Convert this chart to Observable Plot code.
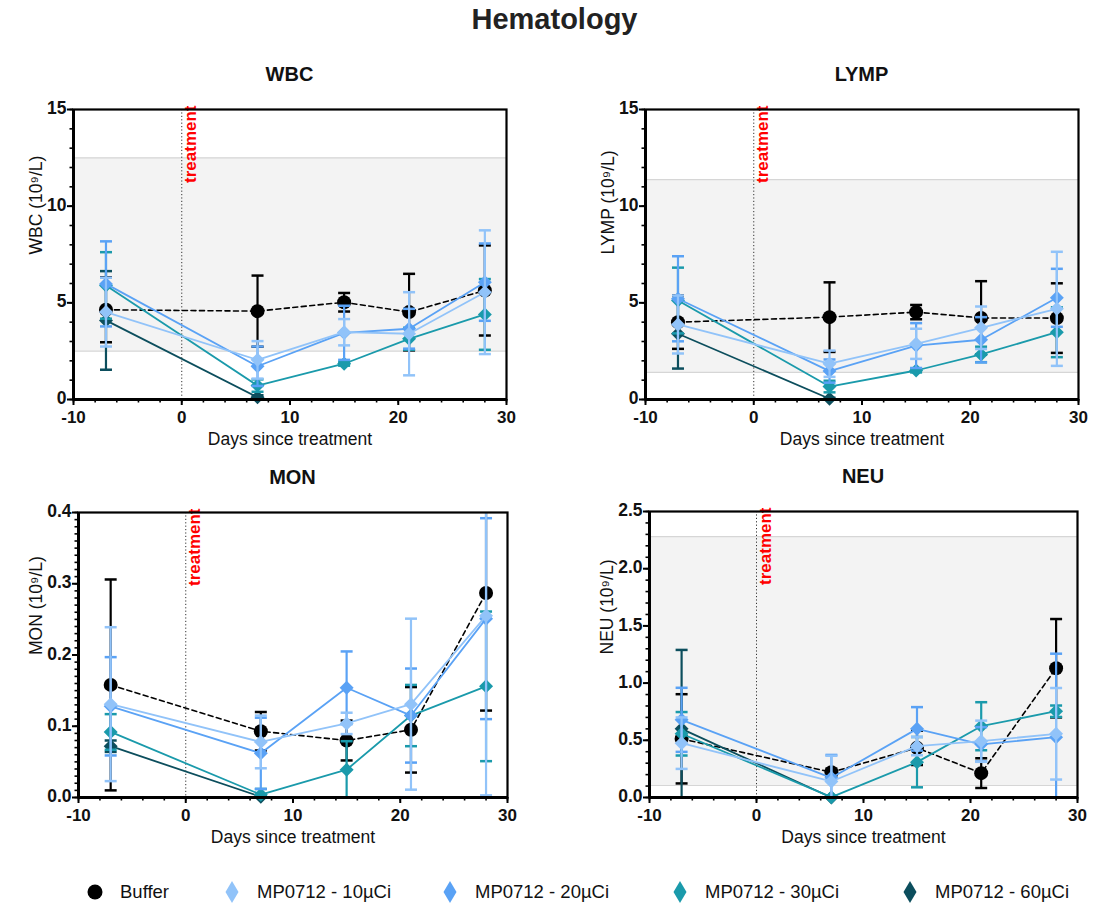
<!DOCTYPE html>
<html>
<head>
<meta charset="utf-8">
<script src="https://cdn.jsdelivr.net/npm/d3@7"></script>
<script src="https://cdn.jsdelivr.net/npm/@observablehq/plot@0.6"></script>
<style>
  body { margin: 0; background: #fff; font-family: "Liberation Sans", Arial, sans-serif; }
  #root { position: relative; width: 1109px; height: 904px; overflow: hidden; }
  .abs { position: absolute; }
  .title { left: 0; width: 1109px; text-align: center; font-weight: bold; font-size: 29px; top: 3px; color: #222; }
  .ptitle { text-align: center; font-weight: bold; font-size: 20px; color: #111; }
  .leg { font-size: 18.5px; color: #111; display: flex; align-items: center; }
</style>
</head>
<body>
<div id="root">
  <div class="abs title">Hematology</div>
</div>
<script>
// ---------- data ----------
const days = [-7, 7, 15, 21, 28];
const days60 = [-7, 7];
const treatmentDay = 0;
const groups = ["Buffer", "MP0712 - 10µCi", "MP0712 - 20µCi", "MP0712 - 30µCi", "MP0712 - 60µCi"];
const colors = ["#000000", "#91c3f9", "#5aa2f5", "#1a9aab", "#0c4e5d"];

// WBC
const wbcBuffer = [4.64, 4.57, 5.03, 4.52, 5.64];
const wbcBufferErr = [1.68, 1.84, 0.48, 1.98, 2.33];
const wbc10 = [4.52, 2.05, 3.48, 3.40, 5.55];
const wbc10Err = [1.78, 0.97, 0.68, 2.15, 3.2];
const wbc20 = [5.98, 1.72, 3.45, 3.66, 6.07];
const wbc20Err = [2.2, 1.02, 1.4, 1.03, 2.0];
const wbc30 = [5.90, 0.72, 1.85, 3.14, 4.40];
const wbc30Err = [1.72, 0.32, 0.1, 0.57, 1.83];
const wbc60 = [4.09, 0.12];
const wbc60Err = [2.55, 0.1];
const wbcRange = [2.5, 12.5];

// LYMP
const lympBuffer = [4.0, 4.26, 4.52, 4.22, 4.21];
const lympBufferErr = [1.38, 1.8, 0.37, 1.9, 1.8];
const lymp10 = [3.88, 1.85, 2.88, 3.71, 4.69];
const lymp10Err = [1.5, 0.68, 0.78, 1.1, 2.95];
const lymp20 = [5.21, 1.47, 2.79, 3.09, 5.26];
const lymp20Err = [2.2, 0.6, 1.16, 1.17, 1.5];
const lymp30 = [5.12, 0.67, 1.5, 2.33, 3.48];
const lymp30Err = [1.7, 0.3, 0.1, 0.4, 1.29];
const lymp60 = [3.4, 0.04];
const lymp60Err = [1.8, 0.05];
const lympRange = [1.4, 11.37];

// MON
const monBuffer = [0.158, 0.093, 0.080, 0.095, 0.287];
const monBufferErr = [0.148, 0.027, 0.028, 0.06, 0.165];
const mon10 = [0.131, 0.078, 0.104, 0.131, 0.255];
const mon10Err = [0.108, 0.037, 0.015, 0.12, 0.252];
const mon20 = [0.128, 0.062, 0.154, 0.115, 0.251];
const mon20Err = [0.069, 0.05, 0.051, 0.066, 0.141];
const mon30 = [0.092, 0.004, 0.039, 0.115, 0.156];
const mon30Err = [0.025, 0.008, 0.04, 0.043, 0.105];
const mon60 = [0.072, 0.001];
const mon60Err = [0.008, 0.002];

// NEU
const neuBuffer = [0.513, 0.221, 0.434, 0.213, 1.13];
const neuBufferErr = [0.39, 0.03, 0.15, 0.13, 0.43];
const neu10 = [0.475, 0.14, 0.449, 0.492, 0.557];
const neu10Err = [0.225, 0.225, 0.08, 0.18, 0.4];
const neu20 = [0.679, 0.172, 0.6, 0.465, 0.527];
const neu20Err = [0.28, 0.2, 0.19, 0.15, 0.73];
const neu30 = [0.557, 0.003, 0.309, 0.623, 0.754];
const neu30Err = [0.19, 0.01, 0.22, 0.21, 0.05];
const neu60 = [0.6, 0.0];
const neu60Err = [0.69, 0.01];
const neuRange = [0.105, 2.28];

// ---------- build ----------
const FONT = '"Liberation Sans", Arial, sans-serif';
const capSymbol = { draw(ctx, size) { const r = Math.sqrt(size / Math.PI); ctx.moveTo(-r, 0); ctx.lineTo(r, 0); } };

function rows(xs, ys, es) { return xs.map((x, i) => ({ x, y: ys[i], lo: ys[i] - es[i], hi: ys[i] + es[i] })); }

function seriesMarks(data, color, isBuffer) {
  return [
    Plot.ruleX(data, { x: "x", y1: "lo", y2: "hi", stroke: color, strokeWidth: 2.2, clip: true }),
    Plot.dot(data, { x: "x", y: "lo", symbol: capSymbol, r: 6, stroke: color, strokeWidth: 2.5, fill: "none", clip: true }),
    Plot.dot(data, { x: "x", y: "hi", symbol: capSymbol, r: 6, stroke: color, strokeWidth: 2.5, fill: "none", clip: true }),
    Plot.line(data, { x: "x", y: "y", stroke: color, strokeWidth: isBuffer ? 1.6 : 1.8, strokeDasharray: isBuffer ? "5,3.5" : null }),
    isBuffer
      ? Plot.dot(data, { x: "x", y: "y", r: 7, fill: color, stroke: "none" })
      : Plot.dot(data, { x: "x", y: "y", symbol: "diamond2", r: 6.3, fill: color, stroke: "none" })
  ];
}

function panel(cfg) {
  const { left, top, marginLeft, plotH, yDomain, yTicks, yMinor, fmt, range, ylabel, ylabelDx, title, series } = cfg;
  const plotW = cfg.plotW;
  const width = marginLeft + plotW + 22;
  const height = 20 + plotH + 62;
  const marks = [];
  if (range) {
    marks.push(Plot.rect([{ y1: range[0], y2: range[1] }], { x1: -10, x2: 30, y1: "y1", y2: "y2", fill: "#f3f3f3" }));
    marks.push(Plot.ruleY(range, { stroke: "#d6d6d6", strokeWidth: 1.2 }));
  }
  marks.push(Plot.ruleX([treatmentDay], { x: d => d, stroke: "#333", strokeWidth: 1, strokeDasharray: "1.2,2.2" }));
  marks.push(Plot.text([{ x: treatmentDay, y: yDomain[1], t: "treatment" }], {
    x: "x", y: "y", text: "t", rotate: -90, textAnchor: "end", dx: 9, dy: -4,
    fill: "#ff0000", fontWeight: "bold", fontSize: 17, fontFamily: FONT
  }));
  const order = [0, 4, 3, 2, 1];
  for (const k of order) {
    const s = series[k];
    if (!s) continue;
    marks.push(...seriesMarks(rows(s.x, s.y, s.e), colors[k], k === 0));
  }
  marks.push(Plot.frame({ stroke: "black", strokeWidth: 2.2 }));
  marks.push(Plot.ruleX([-10], { stroke: "black", strokeWidth: 3 }));
  marks.push(Plot.ruleY([yDomain[0]], { stroke: "black", strokeWidth: 3 }));
  // y ticks (minor and major), then labels separately
  marks.push(Plot.axisY({ ticks: yMinor, tickSize: 3.5, tickFormat: () => "", label: null, strokeWidth: 1.6 }));
  marks.push(Plot.axisY({ ticks: yTicks, tickSize: 6, tickFormat: () => "", label: null, strokeWidth: 2 }));
  marks.push(Plot.axisY({ ticks: yTicks, tickSize: 0, tickPadding: 7, dy: -1, tickFormat: fmt, label: null, fontSize: 17.5, fontWeight: "bold", fill: "#111" }));
  marks.push(Plot.axisX({ ticks: d3.range(-10, 31, 2), tickSize: 3.5, tickFormat: () => "", label: null, strokeWidth: 1.6 }));
  marks.push(Plot.axisX({ ticks: [-10, 0, 10, 20, 30], tickSize: 6, tickPadding: 5.5, tickFormat: d => String(d), label: null, fontSize: 17, fontWeight: "bold", fill: "#111", strokeWidth: 2 }));
  marks.push(Plot.text(["Days since treatment"], { frameAnchor: "bottom", lineAnchor: "middle", dy: 40, text: d => d, fontSize: 17.5, fill: "#111" }));
  marks.push(Plot.text([ylabel], { frameAnchor: "left", rotate: -90, dx: ylabelDx, text: d => d, fontSize: 17.5, fill: "#111" }));

  const svg = Plot.plot({
    width, height, marginLeft, marginRight: 22, marginTop: 20, marginBottom: 62,
    style: { fontFamily: FONT, background: "transparent", overflow: "visible" },
    x: { domain: [-10, 30] },
    y: { domain: yDomain },
    marks
  });
  svg.style.position = "absolute";
  svg.style.left = left + "px";
  svg.style.top = top + "px";
  const root = document.getElementById("root");
  root.appendChild(svg);
  const t = document.createElement("div");
  t.className = "abs ptitle";
  t.textContent = title;
  t.style.left = (left + marginLeft) + "px";
  t.style.width = plotW + "px";
  t.style.top = (top + 20 - 46) + "px";
  root.appendChild(t);
}

panel({ left: 0, top: 89, marginLeft: 73, plotW: 433, plotH: 290, yDomain: [0, 15], yTicks: [0, 5, 10, 15], yMinor: d3.range(0, 15.01, 1),
  fmt: d3.format("d"), range: wbcRange, ylabel: "WBC (10⁹/L)", ylabelDx: -37, title: "WBC",
  series: [ {x: days, y: wbcBuffer, e: wbcBufferErr}, {x: days, y: wbc10, e: wbc10Err}, {x: days, y: wbc20, e: wbc20Err}, {x: days, y: wbc30, e: wbc30Err}, {x: days60, y: wbc60, e: wbc60Err} ] });

panel({ left: 572, top: 89, marginLeft: 73, plotW: 433, plotH: 290, yDomain: [0, 15], yTicks: [0, 5, 10, 15], yMinor: d3.range(0, 15.01, 1),
  fmt: d3.format("d"), range: lympRange, ylabel: "LYMP (10⁹/L)", ylabelDx: -37, title: "LYMP",
  series: [ {x: days, y: lympBuffer, e: lympBufferErr}, {x: days, y: lymp10, e: lymp10Err}, {x: days, y: lymp20, e: lymp20Err}, {x: days, y: lymp30, e: lymp30Err}, {x: days60, y: lymp60, e: lymp60Err} ] });

panel({ left: 0, top: 492, marginLeft: 78, plotW: 429, plotH: 285, yDomain: [0, 0.4], yTicks: [0, 0.1, 0.2, 0.3, 0.4], yMinor: d3.range(0, 0.4001, 0.01),
  fmt: d3.format(".1f"), range: null, ylabel: "MON (10⁹/L)", ylabelDx: -42, title: "MON",
  series: [ {x: days, y: monBuffer, e: monBufferErr}, {x: days, y: mon10, e: mon10Err}, {x: days, y: mon20, e: mon20Err}, {x: days, y: mon30, e: mon30Err}, {x: days60, y: mon60, e: mon60Err} ] });

panel({ left: 571, top: 491, marginLeft: 78, plotW: 428, plotH: 286, yDomain: [0, 2.5], yTicks: [0, 0.5, 1, 1.5, 2, 2.5], yMinor: d3.range(0, 2.501, 0.1),
  fmt: d3.format(".1f"), range: neuRange, ylabel: "NEU (10⁹/L)", ylabelDx: -42, title: "NEU",
  series: [ {x: days, y: neuBuffer, e: neuBufferErr}, {x: days, y: neu10, e: neu10Err}, {x: days, y: neu20, e: neu20Err}, {x: days, y: neu30, e: neu30Err}, {x: days60, y: neu60, e: neu60Err} ] });

// legend
const legX = [95, 232, 450, 680, 910];
const root = document.getElementById("root");
groups.forEach((g, i) => {
  const d = document.createElement("div");
  d.className = "abs leg";
  d.style.left = (legX[i] - 10) + "px";
  d.style.top = "879px";
  const sym = i === 0
    ? `<svg width="20" height="26"><circle cx="10" cy="13" r="7.5" fill="${colors[i]}"/></svg>`
    : `<svg width="20" height="26"><path d="M10,2 L16.5,13 L10,24 L3.5,13 Z" fill="${colors[i]}"/></svg>`;
  d.innerHTML = sym + `<span style="margin-left:15px">${g}</span>`;
  root.appendChild(d);
});
</script>
</body>
</html>
